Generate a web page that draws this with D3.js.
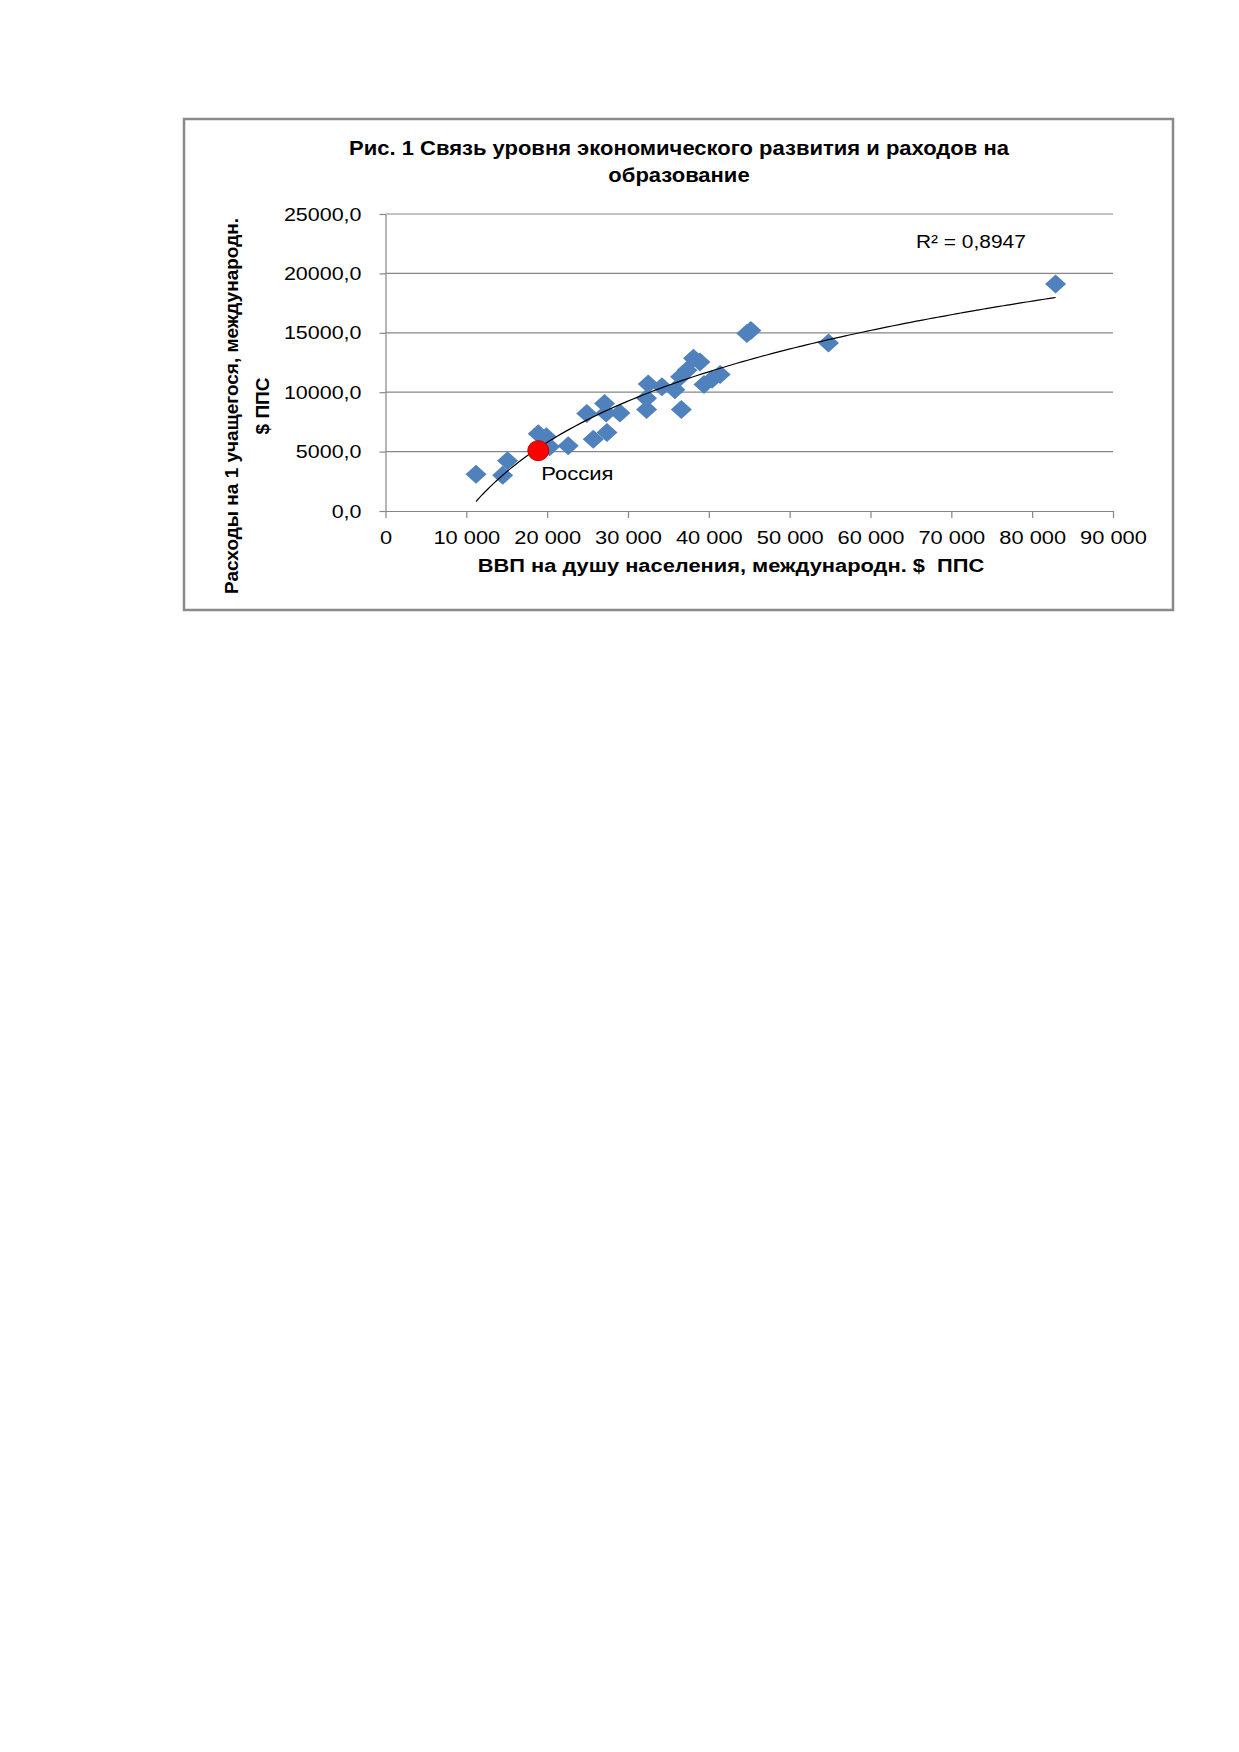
<!DOCTYPE html>
<html>
<head>
<meta charset="utf-8">
<script src="https://cdn.jsdelivr.net/npm/d3@7/dist/d3.min.js"></script>
<style>
  html, body { margin: 0; padding: 0; background: #fff; }
  svg { display: block; }
  text { font-family: "Liberation Sans", Arial, sans-serif; fill: #000; white-space: pre; }
</style>
</head>
<body>
<svg id="chart" width="1239" height="1752"></svg>
<script>
// ---- data ----
const gdpPerCapita = [11200, 14500, 15100, 18900, 19900, 20300, 22600, 25700, 27400, 24900,
                      27100, 27300, 29000, 32300, 32300, 32500, 34200, 35800, 36600, 36500,
                      37300, 38100, 38900, 39400, 40400, 41400, 44700, 45200, 54800, 82900];
const spendingPerStudent = [3100, 3000, 4230, 6500, 6250, 5400, 5500, 6050, 6600, 8200,
                            9050, 8250, 8250, 8550, 9500, 10700, 10450, 10200, 8550, 11300,
                            11850, 12850, 12550, 10650, 11100, 11500, 14950, 15200, 14150, 19100];
const russia = { name: "Россия", gdp: 18900, spend: 5080 };
const xTicks = [0, 10000, 20000, 30000, 40000, 50000, 60000, 70000, 80000, 90000];
const yTicks = [0, 5000, 10000, 15000, 20000, 25000];
const trendA = 8578;      // logarithmic trend: y = a*ln(x) + b
const trendB = -79177;
const r2Label = "R² = 0,8947";
const titleLines = ["Рис. 1 Связь уровня экономического развития и раходов на", "образование"];
const xTitle = "ВВП на душу населения, международн. $  ППС";
const yTitleLines = ["Расходы на 1 учащегося, международн.", "$ ППС"];

// ---- layout ----
const svg = d3.select("#chart");
const plot = { left: 385.5, right: 1113, top: 214, bottom: 511 };
const x = d3.scaleLinear().domain([0, 90000]).range([plot.left, plot.right]);
const y = d3.scaleLinear().domain([0, 25000]).range([plot.bottom, plot.top]);
const gridColor = "#868686";
const fontFam = "Liberation Sans, Arial, sans-serif";

// outer frame
svg.append("rect").attr("x", 184).attr("y", 119).attr("width", 989).attr("height", 491)
  .attr("fill", "#fff").attr("stroke", "#8a8a8a").attr("stroke-width", 2.5);

// title
svg.append("g").selectAll("text").data(titleLines).join("text")
  .attr("transform", (d, i) => `translate(679,${155 + i * 27}) scale(1.10,1)`)
  .attr("text-anchor", "middle").attr("font-weight", "bold").attr("font-size", 20)
  .text(d => d);

// gridlines
svg.append("g").selectAll("line").data(yTicks.filter(t => t > 0)).join("line")
  .attr("x1", plot.left).attr("x2", plot.right)
  .attr("y1", d => y(d)).attr("y2", d => y(d))
  .attr("stroke", gridColor).attr("stroke-width", 1.2);

// axes
const fmtY = d => d3.format(".1f")(d).replace(".", ",");
const fmtX = d => d === 0 ? "0" : d3.format(",")(d).replace(/,/g, " ");

const yAxis = svg.append("g").attr("transform", `translate(${plot.left},0)`)
  .call(d3.axisLeft(y).tickValues(yTicks).tickFormat(fmtY).tickSize(6).tickSizeOuter(0).tickPadding(18));
const xAxis = svg.append("g").attr("transform", `translate(0,${plot.bottom})`)
  .call(d3.axisBottom(x).tickValues(xTicks).tickFormat(fmtX).tickSize(7).tickSizeOuter(0).tickPadding(13));
[yAxis, xAxis].forEach(g => {
  g.select(".domain").attr("stroke", gridColor).attr("stroke-width", 1.2);
  g.selectAll(".tick line").attr("stroke", gridColor).attr("stroke-width", 1.2);
  g.selectAll(".tick text").attr("font-size", 19).attr("font-family", fontFam).attr("fill", "#000");
});
yAxis.selectAll(".tick text").each(function () {
  const t = d3.select(this);
  const tx = +t.attr("x");
  t.attr("x", 0).attr("transform", `translate(${tx},0) scale(1.13,1)`);
});
xAxis.selectAll(".tick text").attr("transform", "scale(1.15,1)");

// axis titles
svg.append("text").attr("transform", "translate(731,572) scale(1.15,1)")
  .attr("text-anchor", "middle").attr("font-weight", "bold").attr("font-size", 19)
  .text(xTitle);
svg.append("g").selectAll("text").data(yTitleLines).join("text")
  .attr("transform", (d, i) => `translate(${238 + i * 31},406) rotate(-90)`)
  .attr("text-anchor", "middle").attr("font-weight", "bold").attr("font-size", 19)
  .text(d => d);

// trend line points
const xMin = d3.min(gdpPerCapita), xMax = d3.max(gdpPerCapita);
const trendPts = d3.range(0, 101).map(i => {
  const gx = xMin + (xMax - xMin) * i / 100;
  return [gx, trendA * Math.log(gx) + trendB];
});

// diamonds
const diamond = {
  draw(ctx, size) {
    const w = 10.5, h = 9.5;
    ctx.moveTo(0, -h); ctx.lineTo(w, 0); ctx.lineTo(0, h); ctx.lineTo(-w, 0); ctx.closePath();
  }
};
const pts = gdpPerCapita.map((g, i) => ({ g, s: spendingPerStudent[i] }));
svg.append("g").selectAll("path").data(pts).join("path")
  .attr("transform", d => `translate(${x(d.g)},${y(d.s)})`)
  .attr("d", d3.symbol().type(diamond).size(1))
  .attr("fill", "#4F81BD");

// trend line (drawn above markers)
svg.append("path").datum(trendPts)
  .attr("fill", "none").attr("stroke", "#000").attr("stroke-width", 1.2)
  .attr("d", d3.line().x(d => x(d[0])).y(d => y(d[1])).curve(d3.curveMonotoneX));

// Russia
svg.append("ellipse").attr("cx", x(russia.gdp)).attr("cy", y(russia.spend))
  .attr("rx", 10.5).attr("ry", 10)
  .attr("fill", "#FF0000").attr("stroke", "#C00000").attr("stroke-width", 1);
svg.append("text")
  .attr("transform", `translate(${x(russia.gdp) + 3},${y(russia.spend) + 29}) scale(1.16,1)`)
  .attr("font-size", 19).text(russia.name);

// R² label
svg.append("text").attr("transform", "translate(916,248) scale(1.10,1)")
  .attr("font-size", 19).text(r2Label);
</script>
</body>
</html>
